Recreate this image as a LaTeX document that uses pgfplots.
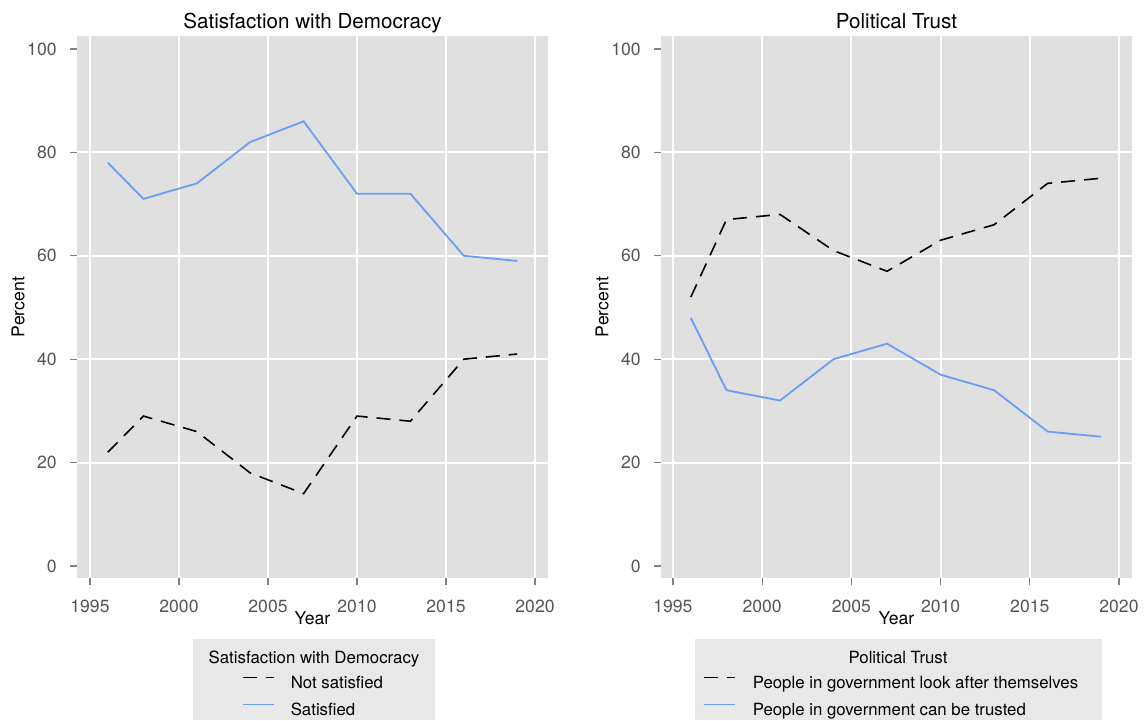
\documentclass[border=0pt]{standalone}
\usepackage{fontspec}
\setmainfont{TeX Gyre Heros}
\usepackage{pgfplots}
\pgfplotsset{compat=1.18}

\definecolor{panelbg}{RGB}{224,224,224}
\definecolor{legbg}{RGB}{232,232,232}
\definecolor{sblue}{RGB}{106,158,245}
\definecolor{ticktext}{RGB}{85,85,85}

\pgfplotsset{
  panel/.style={
    scale only axis,
    width=235.5pt,
    height=271pt,
    ymin=-2.32, ymax=102.5,
    axis background/.style={fill=panelbg},
    axis lines*=left,
    axis line style={draw=none},
    tick align=outside,
    major tick length=3.5pt,
    tick style={color=gray, line width=0.6pt},
    xtick={1995,2000,...,2020},
    ytick={0,20,...,100},
    xmajorgrids,
    major grid style={white, line width=1pt},
    extra y ticks={20,40,60,80},
    extra y tick labels={},
    extra y tick style={grid=major, major tick length=0pt},
    /pgf/number format/assume math mode=true,
    /pgf/number format/1000 sep={},
    ticklabel style={font=\fontsize{8.8}{10}\selectfont, text=ticktext},
    yticklabel style={anchor=east, inner sep=0pt, xshift=-6.5pt},
    xticklabel style={anchor=base, inner sep=0pt, yshift=-13.5pt},
    xticklabel shift=0pt,
    title style={font=\fontsize{10.3}{12}\selectfont, at={(0.5,1)}, anchor=base, yshift=-2pt},
    xlabel={Year},
    ylabel={Percent},
    label style={font=\fontsize{8.8}{10}\selectfont},
    xlabel style={at={(axis description cs:0.5,0)}, anchor=base, yshift=-23pt},
    ylabel style={at={(axis description cs:-0.1253,0.5)}, anchor=center},
    legend cell align=left,
    legend image code/.code={\draw[##1] (0pt,3pt) -- (15.5pt,3pt);},
  },
  leg/.style 2 args={
    legend style={at={(#1,-0.1808)}, anchor=north west, draw=none, fill=none,
      inner sep=0pt, outer sep=0pt,
      font=\fontsize{8.4}{10}\selectfont,
      row sep=6pt, column sep=#2,
      nodes={inner sep=0pt, text height=6pt, text depth=1.5pt}},
  },
}

\begin{document}
\begin{tikzpicture}
\path[use as bounding box] (0,0) rectangle (572pt,360pt);
\fill[legbg] (96.5pt,0) rectangle (217.5pt,40.5pt);
\fill[legbg] (347.5pt,0) rectangle (551pt,40.5pt);

\begin{axis}[panel,
  at={(38.5pt,71pt)}, anchor=south west,
  xmin=1994.27, xmax=2020.73,
  title={Satisfaction with Democracy},
  leg={0.3503}{8pt},
]
\addplot[black, line width=0.8pt, dash pattern=on 7pt off 4.5pt] coordinates {
(1996,22)(1998,29)(2001,26)(2004,18)(2007,14)(2010,29)(2013,28)(2016,40)(2019,41)};
\addlegendentry{Not satisfied}
\addplot[sblue, line width=0.9pt] coordinates {
(1996,78)(1998,71)(2001,74)(2004,82)(2007,86)(2010,72)(2013,72)(2016,60)(2019,59)};
\addlegendentry{Satisfied}
\end{axis}

\begin{axis}[panel,
  at={(330.5pt,71pt)}, anchor=south west,
  xmin=1994.33, xmax=2020.73,
  title={Political Trust},
  leg={0.0892}{8.5pt},
]
\addplot[black, line width=0.8pt, dash pattern=on 7pt off 4.5pt] coordinates {
(1996,52)(1998,67)(2001,68)(2004,61)(2007,57)(2010,63)(2013,66)(2016,74)(2019,75)};
\addlegendentry{People in government look after themselves}
\addplot[sblue, line width=0.9pt] coordinates {
(1996,48)(1998,34)(2001,32)(2004,40)(2007,43)(2010,37)(2013,34)(2016,26)(2019,25)};
\addlegendentry{People in government can be trusted}
\end{axis}

\node[anchor=base, font=\fontsize{8.4}{10}\selectfont] at (157pt,28.5pt) {Satisfaction with Democracy};
\node[anchor=base, font=\fontsize{8.4}{10}\selectfont] at (449pt,28.5pt) {Political Trust};
\end{tikzpicture}
\end{document}
